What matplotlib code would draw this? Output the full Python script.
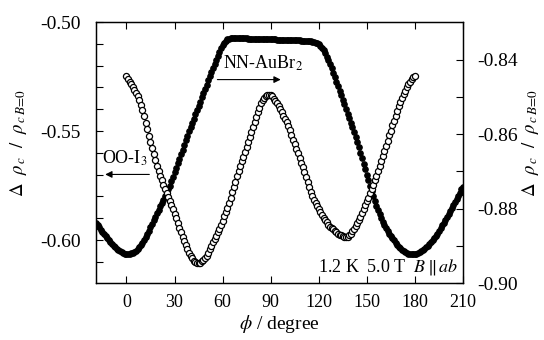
import numpy as np
import matplotlib
matplotlib.use("Agg")
import matplotlib.pyplot as plt

plt.rcParams['font.family'] = ['Liberation Serif', 'DejaVu Serif']
plt.rcParams['mathtext.fontset'] = 'stix'

# NN-AuBr2 (filled circles, left axis), one point per degree
phi_nn = list(range(-19, 211))
rho_nn = [-0.5922, -0.5932, -0.5942, -0.5952, -0.5962, -0.5972, -0.5981, -0.5990, -0.5999, -0.6008,
          -0.6017, -0.6025, -0.6033, -0.6040, -0.6046, -0.6052, -0.6056, -0.6060, -0.6062, -0.6064,
          -0.6064, -0.6063, -0.6061, -0.6058, -0.6053, -0.6048, -0.6041, -0.6033, -0.6023, -0.6012,
          -0.6000, -0.5987, -0.5973, -0.5958, -0.5942, -0.5926, -0.5909, -0.5892, -0.5876, -0.5860,
          -0.5845, -0.5830, -0.5815, -0.5800, -0.5784, -0.5768, -0.5750, -0.5730, -0.5709, -0.5688,
          -0.5668, -0.5648, -0.5627, -0.5606, -0.5585, -0.5563, -0.5542, -0.5522, -0.5502, -0.5482,
          -0.5462, -0.5443, -0.5424, -0.5405, -0.5385, -0.5366, -0.5346, -0.5327, -0.5307, -0.5288,
          -0.5268, -0.5248, -0.5229, -0.5210, -0.5191, -0.5172, -0.5154, -0.5136, -0.5120, -0.5106,
          -0.5095, -0.5086, -0.5080, -0.5076, -0.5074, -0.5072, -0.5071, -0.5071, -0.5071, -0.5072,
          -0.5073, -0.5074, -0.5074, -0.5075, -0.5075, -0.5076, -0.5076, -0.5077, -0.5077, -0.5077,
          -0.5078, -0.5078, -0.5078, -0.5079, -0.5079, -0.5079, -0.5079, -0.5080, -0.5080, -0.5080,
          -0.5080, -0.5080, -0.5080, -0.5081, -0.5081, -0.5081, -0.5081, -0.5082, -0.5082, -0.5082,
          -0.5082, -0.5083, -0.5083, -0.5083, -0.5083, -0.5084, -0.5084, -0.5084, -0.5085, -0.5085,
          -0.5085, -0.5086, -0.5087, -0.5088, -0.5089, -0.5090, -0.5092, -0.5094, -0.5097, -0.5100,
          -0.5108, -0.5118, -0.5130, -0.5144, -0.5160, -0.5176, -0.5194, -0.5212, -0.5232, -0.5252,
          -0.5273, -0.5294, -0.5315, -0.5336, -0.5357, -0.5378, -0.5399, -0.5420, -0.5441, -0.5462,
          -0.5483, -0.5504, -0.5527, -0.5550, -0.5575, -0.5600, -0.5625, -0.5650, -0.5675, -0.5700,
          -0.5725, -0.5750, -0.5774, -0.5798, -0.5820, -0.5842, -0.5862, -0.5882, -0.5900, -0.5917,
          -0.5932, -0.5946, -0.5958, -0.5970, -0.5981, -0.5992, -0.6002, -0.6012, -0.6021, -0.6030,
          -0.6038, -0.6045, -0.6051, -0.6056, -0.6060, -0.6063, -0.6065, -0.6066, -0.6066, -0.6065,
          -0.6063, -0.6060, -0.6056, -0.6051, -0.6046, -0.6040, -0.6033, -0.6025, -0.6017, -0.6008,
          -0.5999, -0.5990, -0.5980, -0.5970, -0.5958, -0.5945, -0.5933, -0.5920, -0.5908, -0.5895,
          -0.5881, -0.5866, -0.5852, -0.5838, -0.5824, -0.5810, -0.5796, -0.5782, -0.5768, -0.5755]

# OO-I3 (open circles, right axis)
phi_oo = list(range(0, 181))
rho_oo = [-0.8443, -0.8450, -0.8458, -0.8465, -0.8472, -0.8480, -0.8489, -0.8498, -0.8507, -0.8520,
          -0.8535, -0.8552, -0.8569, -0.8587, -0.8604, -0.8621, -0.8637, -0.8654, -0.8670, -0.8684,
          -0.8698, -0.8711, -0.8724, -0.8736, -0.8748, -0.8758, -0.8769, -0.8780, -0.8791, -0.8802,
          -0.8814, -0.8826, -0.8839, -0.8852, -0.8864, -0.8876, -0.8887, -0.8898, -0.8908, -0.8918,
          -0.8927, -0.8934, -0.8940, -0.8944, -0.8947, -0.8947, -0.8945, -0.8941, -0.8937, -0.8932,
          -0.8926, -0.8918, -0.8909, -0.8900, -0.8891, -0.8882, -0.8873, -0.8864, -0.8854, -0.8843,
          -0.8832, -0.8821, -0.8809, -0.8797, -0.8785, -0.8771, -0.8756, -0.8742, -0.8727, -0.8713,
          -0.8698, -0.8685, -0.8672, -0.8660, -0.8648, -0.8635, -0.8621, -0.8607, -0.8593, -0.8580,
          -0.8566, -0.8554, -0.8541, -0.8529, -0.8517, -0.8508, -0.8501, -0.8496, -0.8493, -0.8493,
          -0.8494, -0.8498, -0.8504, -0.8510, -0.8517, -0.8525, -0.8533, -0.8541, -0.8550, -0.8559,
          -0.8568, -0.8578, -0.8589, -0.8601, -0.8614, -0.8626, -0.8639, -0.8651, -0.8664, -0.8676,
          -0.8689, -0.8702, -0.8716, -0.8729, -0.8742, -0.8754, -0.8766, -0.8776, -0.8785, -0.8794,
          -0.8802, -0.8810, -0.8818, -0.8825, -0.8831, -0.8837, -0.8843, -0.8848, -0.8852, -0.8856,
          -0.8860, -0.8864, -0.8867, -0.8870, -0.8872, -0.8874, -0.8875, -0.8876, -0.8875, -0.8872,
          -0.8867, -0.8861, -0.8854, -0.8847, -0.8839, -0.8831, -0.8822, -0.8812, -0.8801, -0.8791,
          -0.8780, -0.8770, -0.8759, -0.8748, -0.8737, -0.8724, -0.8711, -0.8698, -0.8685, -0.8672,
          -0.8658, -0.8645, -0.8631, -0.8617, -0.8603, -0.8590, -0.8576, -0.8563, -0.8550, -0.8538,
          -0.8525, -0.8514, -0.8502, -0.8492, -0.8483, -0.8474, -0.8465, -0.8458, -0.8450, -0.8446,
          -0.8442]

xticks = [0, 30, 60, 90, 120, 150, 180, 210]
yticks_left = [-0.60, -0.55, -0.50]
yticks_right = [-0.90, -0.88, -0.86, -0.84]

fig = plt.figure(figsize=(5.44, 3.40), dpi=100)
ax = fig.add_axes([0.1765, 0.1676, 0.6745, 0.7676])
ax2 = ax.twinx()

ax.plot(phi_nn, rho_nn, 'o', color='black', markersize=3.8, zorder=3)
ax2.plot(phi_oo, rho_oo, 'o', mfc='white', mec='black', mew=0.9, markersize=4.4)

ax.set_xlim(-19, 210)
ax.set_ylim(-0.6197, -0.50)
ax2.set_ylim(-0.90, -0.8298)

ax.set_xticks(xticks)
ax.set_xticklabels([str(t) for t in xticks])
ax.set_yticks(yticks_left)
ax.set_yticklabels(['-0.60', '-0.55', '-0.50'])
ax.set_yticks(np.arange(-0.61, -0.495, 0.01), minor=True)
ax2.set_yticks(yticks_right)
ax2.set_yticklabels(['-0.90', '-0.88', '-0.86', '-0.84'])
ax2.set_yticks(np.arange(-0.89, -0.835, 0.01), minor=True)

ax.tick_params(axis='x', direction='in', top=True, length=5, width=0.8, labelsize=13, pad=8)
ax.tick_params(axis='y', which='both', direction='in', length=5, width=0.8, labelsize=14, pad=11)
ax2.tick_params(axis='y', which='both', direction='in', length=5, width=0.8, labelsize=14, pad=10)

for a in (ax, ax2):
    for s in a.spines.values():
        s.set_linewidth(0.9)

ylab = r'$\Delta\ \ \rho_{\,c}\ \ /\ \ \rho_{\,c\,B\!=\!0}$'
ax.set_ylabel(ylab, fontsize=13.5, va='center')
ax.yaxis.set_label_coords(-0.21, 0.535)
ax2.set_ylabel(ylab, fontsize=13.5, va='center', rotation=90)
ax2.yaxis.set_label_coords(1.185, 0.535)
ax.set_xlabel(r'$\phi$ / degree', fontsize=14, labelpad=1)

ax.text(85, -0.5190, r'NN-AuBr$_2$', fontsize=13, ha='center', va='center')
ax.annotate('', xy=(98, -0.5264), xytext=(55, -0.5264),
            arrowprops=dict(arrowstyle='-|>', color='black', lw=0.8, mutation_scale=10))
ax.text(-1, -0.5625, r'OO-I$_3$', fontsize=13, ha='center', va='center')
ax.annotate('', xy=(-15, -0.5699), xytext=(16, -0.5699),
            arrowprops=dict(arrowstyle='-|>', color='black', lw=0.8, mutation_scale=10))
ax.text(207, -0.6125, r'1.2 K  5.0 T  $B\,\|\,ab$', fontsize=13, ha='right', va='center')

fig.savefig('out.png', dpi=100)
